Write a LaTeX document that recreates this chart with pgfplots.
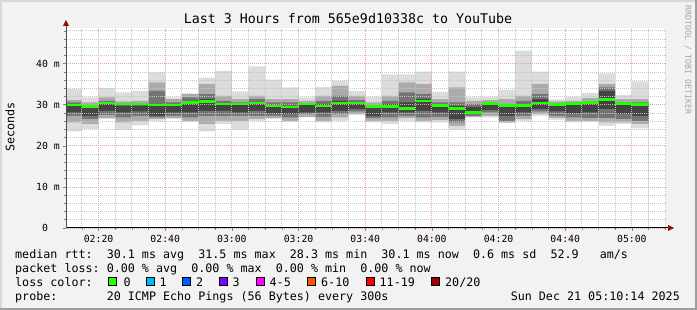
\documentclass[border=0pt]{standalone}
\usepackage{fontspec}
\setmainfont{DejaVu Sans Mono}
\usepackage{pgfplots}
\pgfplotsset{compat=1.18}
\usepackage{pgfplotstable}
\definecolor{bg}{HTML}{F2F2F2}
\definecolor{shadea}{HTML}{D8D8D8}
\definecolor{shadeb}{HTML}{9E9E9E}
\definecolor{gridc}{HTML}{C4C4C4}
\definecolor{mgridc}{HTML}{EBA0A0}
\definecolor{arrowred}{HTML}{8B1010}
\definecolor{s0}{HTML}{DCDCDC}
\definecolor{s1}{HTML}{ABABAB}
\definecolor{s2}{HTML}{747474}
\definecolor{s3}{HTML}{444444}
\definecolor{medc}{HTML}{22FF00}
\definecolor{c0}{HTML}{26FF00}
\definecolor{c1}{HTML}{00B8FF}
\definecolor{c2}{HTML}{0059FF}
\definecolor{c3}{HTML}{7E00FF}
\definecolor{c4}{HTML}{FF00FF}
\definecolor{c5}{HTML}{FF5500}
\definecolor{c6}{HTML}{FF0000}
\definecolor{c7}{HTML}{A10000}

% t = minutes after 02:00; values in ms
\pgfplotstableread{
t      mn     mx     p1lo   p1hi   p2lo   p2hi   p3lo   p3hi   med
10.233 23.50  33.82  25.69  31.14  27.32  30.57  28.13  29.76  29.92
15     24.07  31.79  25.28  30.57  26.50  29.76  27.32  29.35  29.59
20     26.50  34.07  26.75  31.79  27.56  30.98  28.54  30.16  30.41
25     23.90  33.01  25.69  30.81  26.91  30.16  28.13  29.76  30.16
30     24.96  33.41  26.10  30.98  27.32  30.33  28.37  29.76  30.16
35     26.10  37.89  26.50  35.45  26.91  33.41  27.32  30.16  29.92
40     26.50  31.79  26.75  31.38  27.32  30.57  28.13  30.00  29.92
45     25.85  32.76  26.10  32.60  26.91  31.79  28.13  30.98  30.57
50     23.50  36.59  25.28  35.04  27.32  32.60  28.54  31.38  30.81
55     25.28  38.29  26.10  32.20  27.32  30.98  28.54  30.16  30.16
60     23.82  33.25  26.10  31.38  27.32  30.57  28.13  30.00  30.16
65     26.10  39.35  26.50  32.20  27.32  31.38  28.54  30.57  30.41
70     26.50  36.10  26.75  31.38  27.32  30.57  27.89  29.92  29.76
75     25.85  34.23  26.10  31.38  26.91  30.57  27.72  29.76  29.51
80     26.91  31.79  27.07  30.98  27.72  30.33  28.13  30.00  30.16
85     25.69  34.39  26.10  32.20  27.07  30.98  28.13  30.16  29.76
90     26.10  35.85  26.91  34.63  27.72  32.20  28.54  30.98  30.49
95     27.56  33.41  27.72  32.20  28.37  31.14  28.94  30.57  30.49
100    25.69  31.95  26.10  30.57  26.75  29.76  27.32  29.35  29.59
105    25.28  37.40  26.10  32.20  26.91  30.98  28.13  30.16  29.59
110    26.10  37.40  26.75  35.45  27.32  33.01  28.13  30.57  29.11
115    25.69  38.05  26.10  35.04  26.91  32.60  28.54  31.38  30.98
120    25.69  33.17  26.26  31.38  27.07  30.57  28.13  30.00  29.84
125    23.90  38.05  24.88  34.23  25.69  30.57  26.50  29.76  29.11
130    26.91  31.79  27.07  30.98  27.32  30.16  27.72  29.51  28.13
135    26.91  31.95  27.32  31.14  28.13  30.57  28.70  30.16  30.33
140    25.53  33.66  25.69  31.38  26.10  30.16  27.32  29.76  29.84
145    26.10  43.17  26.50  32.20  27.32  30.98  28.13  30.16  29.84
150    27.32  38.05  27.72  35.04  28.37  32.60  28.94  31.38  30.49
155    26.34  31.30  26.75  30.81  27.32  30.33  28.37  29.92  30.08
160    25.69  31.95  26.10  30.98  26.91  30.49  27.89  30.16  30.33
165    25.85  32.93  26.10  31.63  26.75  30.81  28.13  30.16  30.57
170    24.88  37.64  25.69  35.04  26.75  34.23  28.94  33.41  31.30
175    25.28  32.44  25.69  31.38  26.50  30.57  27.72  30.16  30.33
180    24.23  35.69  25.28  31.38  26.10  30.57  27.32  30.00  30.08
185    24.23  35.69  25.28  31.38  26.10  30.57  27.32  30.00  30.08
}\smoke

\newcommand\legfont{\fontsize{11.7bp}{13bp}\selectfont}
\pgfplotsset{rrdgeom/.style={
  at={(66bp,82bp)}, anchor=south west,
  scale only axis, width=600bp, height=200bp,
  xmin=10.233, xmax=190.233, ymin=0, ymax=48.7}}

\begin{document}
\frenchspacing
\begin{tikzpicture}
\path[use as bounding box] (0bp,0bp) rectangle (697bp,310bp);
\fill[bg] (0bp,0bp) rectangle (697bp,310bp);
\fill[shadea] (0bp,308bp) rectangle (697bp,310bp);
\fill[shadea] (0bp,0bp) rectangle (2bp,310bp);
\fill[shadeb] (0bp,0bp) rectangle (697bp,2bp);
\fill[shadeb] (695bp,0bp) rectangle (697bp,310bp);
\fill[white] (66bp,82bp) rectangle (666bp,282bp);

\begin{axis}[
  rrdgeom,
  axis on top,
  axis line style={draw=none},
  xtick={20,40,...,180},
  xticklabels={02:20,02:40,03:00,03:20,03:40,04:00,04:20,04:40,05:00},
  minor xtick={15,25,30,35,45,50,55,65,70,75,85,90,95,105,110,115,125,130,135,145,150,155,165,170,175,185,190},
  ytick={0,10,20,30,40},
  yticklabels={0\hphantom{\ m},10 m,20 m,30 m,40 m},
  minor ytick={2,4,6,8,12,14,16,18,22,24,26,28,32,34,36,38,42,44,46,48},
  grid=both,
  major grid style={draw=mgridc, dash pattern=on 1bp off 1bp, line width=0.8bp},
  minor grid style={draw=gridc, dash pattern=on 1bp off 1bp, line width=0.8bp},
  xtick pos=bottom, ytick pos=left,
  tick align=outside, major tick length=3bp, minor tick length=2bp,
  tick style={draw=gray, line width=0.6bp},
  ticklabel style={font=\fontsize{9.8bp}{10bp}\selectfont, inner sep=0pt},
  xticklabel style={anchor=north, yshift=-4.5bp},
  yticklabel style={anchor=east, xshift=-3bp},
]
\addplot[fill=s0, draw=none, const plot] table[x=t, y=mx] {\smoke} \closedcycle;
\addplot[fill=s1, draw=none, const plot] table[x=t, y=p1hi] {\smoke} \closedcycle;
\addplot[fill=s2, draw=none, const plot] table[x=t, y=p2hi] {\smoke} \closedcycle;
\addplot[fill=s3, draw=none, const plot] table[x=t, y=p3hi] {\smoke} \closedcycle;
\addplot[fill=s2, draw=none, const plot] table[x=t, y=p3lo] {\smoke} \closedcycle;
\addplot[fill=s1, draw=none, const plot] table[x=t, y=p2lo] {\smoke} \closedcycle;
\addplot[fill=s0, draw=none, const plot] table[x=t, y=p1lo] {\smoke} \closedcycle;
\addplot[fill=white, draw=none, const plot] table[x=t, y=mn] {\smoke} \closedcycle;
\end{axis}

% median line drawn above the grid in an overlaid axis
\begin{axis}[rrdgeom, hide axis]
\addplot[draw=medc, line width=2.2bp, jump mark left, mark=none] table[x=t, y=med] {\smoke};
\end{axis}

% axes with arrow heads
\draw[black, line width=1bp] (66bp,82bp) -- (668bp,82bp);
\fill[arrowred] (668bp,79bp) -- (674bp,82bp) -- (668bp,85bp) -- cycle;
\draw[black!70, line width=1bp] (66bp,82bp) -- (66bp,284bp);
\fill[arrowred] (63bp,284bp) -- (66bp,290bp) -- (69bp,284bp) -- cycle;

% titles
\node[font=\fontsize{13.3bp}{15bp}\selectfont] at (348bp,291bp) {Last 3 Hours from 565e9d10338c to YouTube};
\node[rotate=90, font=\legfont] at (10bp,183bp) {Seconds};
\node[rotate=-90, font=\fontsize{8.3bp}{9bp}\selectfont, text=black!35] at (688bp,250bp) {RRDTOOL / TOBI OETIKER};

% legend
\node[anchor=base west, inner sep=0pt, font=\legfont] at (15bp,51bp) {median rtt:~~30.1 ms avg~~31.5 ms max~~28.3 ms min~~30.1 ms now~~0.6 ms sd~~52.9~~~am/s};
\node[anchor=base west, inner sep=0pt, font=\legfont] at (15bp,38bp) {packet loss: 0.00 \% avg~~0.00 \% max~~0.00 \% min~~0.00 \% now};
\node[anchor=base west, inner sep=0pt, font=\legfont] at (15bp,24bp) {loss color:};
\foreach \c/\xs/\xl/\lab in {c0/108/123.5/0, c1/146/159.5/1, c2/182/196/2, c3/219/232.5/3, c4/256/269.5/4-5, c5/307/321/6-10, c6/366/379.5/11-19, c7/431/445/{20/20}}{
  \filldraw[fill=\c, draw=black, line width=0.9bp] (\xs bp,24.3bp) rectangle ++(8.5bp,8.5bp);
  \node[anchor=base west, inner sep=0pt, font=\legfont] at (\xl bp,24bp) {\lab};
}
\node[anchor=base west, inner sep=0pt, font=\legfont] at (15bp,10bp) {probe:~~~~~~~20 ICMP Echo Pings (56 Bytes) every 300s};
\node[anchor=base east, inner sep=0pt, font=\legfont] at (680bp,10bp) {Sun Dec 21 05:10:14 2025};
\end{tikzpicture}
\end{document}
